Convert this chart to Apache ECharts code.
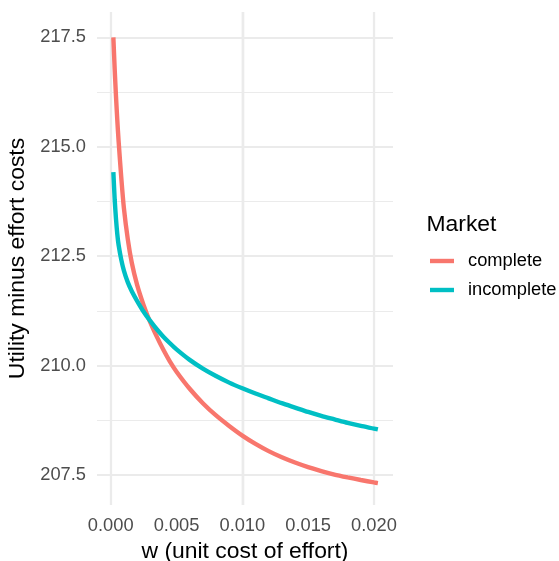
<!DOCTYPE html>
<html>
<head>
<meta charset="utf-8">
<title>Utility minus effort costs</title>
<script src="https://cdn.jsdelivr.net/npm/echarts@6/dist/echarts.min.js"></script>
<style>
  html, body { margin: 0; padding: 0; background: #ffffff; }
  #chart { width: 559px; height: 561px; }
</style>
</head>
<body>
<div id="chart"></div>
<script>
// Unit cost of effort (w) at which both markets are evaluated
const wValues = [0.0002, 0.0003, 0.0004, 0.0005, 0.0006, 0.0008, 0.001, 0.0013, 0.0016, 0.002,
  0.0025, 0.003, 0.0035, 0.004, 0.0045, 0.005, 0.006, 0.007, 0.008, 0.009,
  0.010, 0.011, 0.012, 0.013, 0.014, 0.015, 0.016, 0.017, 0.018, 0.019, 0.020, 0.0203];

// Utility minus effort costs, complete market
const completeValues = [217.50, 216.78, 216.15, 215.60, 215.12, 214.30, 213.60, 212.88, 212.35, 211.85,
  211.38, 210.99, 210.66, 210.36, 210.09, 209.86, 209.47, 209.14, 208.86, 208.62,
  208.40, 208.21, 208.045, 207.905, 207.785, 207.68, 207.59, 207.51, 207.445, 207.385, 207.33, 207.315];

// Utility minus effort costs, incomplete market
const incompleteValues = [214.42, 213.80, 213.35, 213.00, 212.75, 212.42, 212.17, 211.90, 211.70, 211.48,
  211.23, 211.02, 210.83, 210.66, 210.51, 210.37, 210.13, 209.93, 209.76, 209.61,
  209.48, 209.36, 209.25, 209.14, 209.04, 208.94, 208.85, 208.77, 208.69, 208.62, 208.56, 208.54];

const seriesNames = ['complete', 'incomplete'];

// Axis breaks
const xTicks = [0.000, 0.005, 0.010, 0.015, 0.020];
const xMinorTicks = [0.0025, 0.0075, 0.0125, 0.0175];
const yTicks = [207.5, 210.0, 212.5, 215.0, 217.5];
const yMinorTicks = [208.75, 211.25, 213.75, 216.25];

const FONT = 'Liberation Sans, Arial, Helvetica, sans-serif';
const GRID_COLOR = '#EBEBEB';
const TICK_FONT = 18.3;
const TITLE_FONT = 22.9;

function pair(xs, ys) {
  return xs.map((x, i) => [x, ys[i]]);
}

// Panel grid lines, drawn beneath the curves
const gridLines = []
  .concat(xMinorTicks.map(v => ({ xAxis: v, lineStyle: { width: 1.1 } })))
  .concat(yMinorTicks.map(v => ({ yAxis: v, lineStyle: { width: 1.1 } })))
  .concat(xTicks.map(v => ({ xAxis: v, lineStyle: { width: 2.2 } })))
  .concat(yTicks.map(v => ({ yAxis: v, lineStyle: { width: 2.2 } })));

const chart = echarts.init(document.getElementById('chart'), null, { renderer: 'canvas' });

chart.setOption({
  animation: false,
  backgroundColor: '#ffffff',
  textStyle: { fontFamily: FONT },
  title: {
    text: 'Market',
    left: 426.5,
    top: 213,
    padding: 0,
    textStyle: { fontFamily: FONT, fontSize: TITLE_FONT, fontWeight: 'normal', color: '#000000', lineHeight: 23 }
  },
  legend: {
    data: seriesNames,
    orient: 'vertical',
    left: 430,
    top: 251,
    padding: 0,
    itemGap: 9,
    itemWidth: 24,
    itemHeight: 4.4,
    icon: 'rect',
    selectedMode: false,
    textStyle: { fontFamily: FONT, fontSize: TICK_FONT, color: '#000000', lineHeight: 20, padding: [0, 0, 0, 9] }
  },
  grid: {
    left: 97, top: 12, width: 296, height: 493,
    containLabel: false,
    outerBoundsMode: 'none'
  },
  xAxis: {
    type: 'value',
    min: -0.001043,
    max: 0.021448,
    name: 'w (unit cost of effort)',
    nameLocation: 'middle',
    nameGap: 27,
    nameTextStyle: { fontFamily: FONT, fontSize: TITLE_FONT, color: '#000000' },
    axisLine: { show: false },
    axisTick: { show: false },
    splitLine: { show: false },
    axisLabel: {
      customValues: xTicks,
      formatter: v => v.toFixed(3),
      margin: 12,
      fontFamily: FONT,
      fontSize: TICK_FONT,
      color: '#4D4D4D'
    }
  },
  yAxis: {
    type: 'value',
    min: 206.814,
    max: 218.078,
    name: 'Utility minus effort costs',
    nameLocation: 'middle',
    nameGap: 61,
    nameTextStyle: { fontFamily: FONT, fontSize: TITLE_FONT, color: '#000000' },
    axisLine: { show: false },
    axisTick: { show: false },
    splitLine: { show: false },
    axisLabel: {
      customValues: yTicks,
      formatter: v => v.toFixed(1),
      margin: 11,
      fontFamily: FONT,
      fontSize: TICK_FONT,
      color: '#4D4D4D'
    }
  },
  series: [
    {
      name: seriesNames[0],
      type: 'line',
      data: pair(wValues, completeValues),
      showSymbol: false,
      symbol: 'none',
      smooth: 0.25,
      z: 2,
      lineStyle: { color: '#F8766D', width: 4.4, cap: 'butt' },
      itemStyle: { color: '#F8766D' },
      markLine: {
        silent: true,
        z: 1,
        symbol: ['none', 'none'],
        label: { show: false },
        emphasis: { disabled: true },
        lineStyle: { color: GRID_COLOR, type: 'solid' },
        data: gridLines
      }
    },
    {
      name: seriesNames[1],
      type: 'line',
      data: pair(wValues, incompleteValues),
      showSymbol: false,
      symbol: 'none',
      smooth: 0.25,
      z: 3,
      lineStyle: { color: '#00BFC4', width: 4.4, cap: 'butt' },
      itemStyle: { color: '#00BFC4' }
    }
  ]
});
</script>
</body>
</html>
